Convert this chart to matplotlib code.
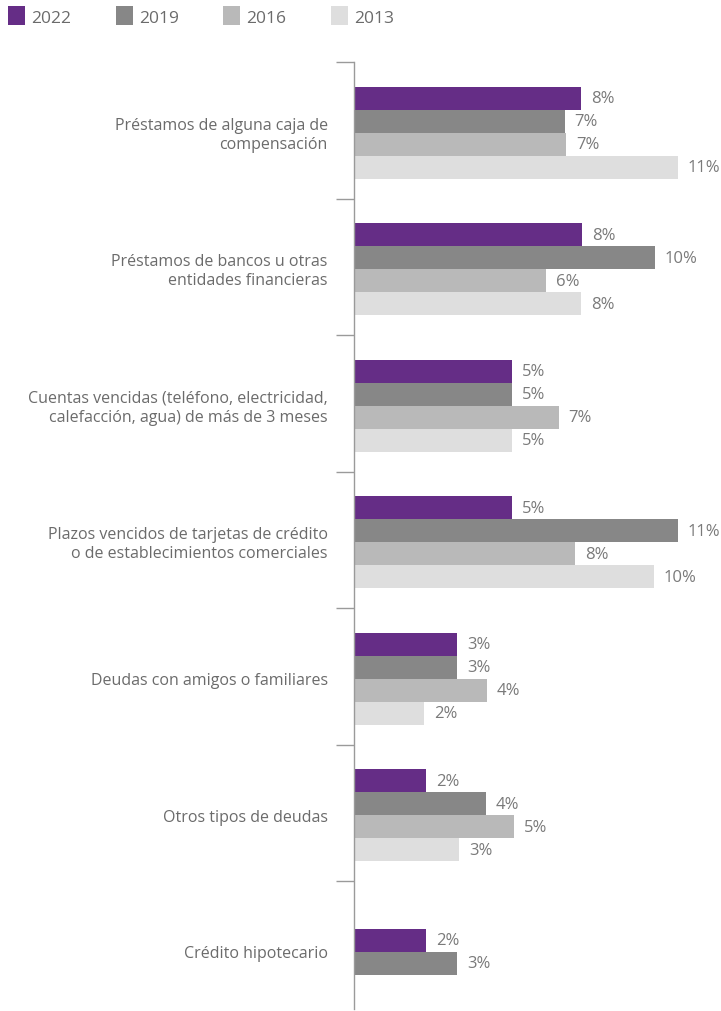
import matplotlib
matplotlib.use("Agg")
import matplotlib.pyplot as plt
from matplotlib.patches import Rectangle
import numpy as np

plt.rcParams['font.family'] = ['Open Sans', 'DejaVu Sans']

categories = [
    "Préstamos de alguna caja de\ncompensación",
    "Préstamos de bancos u otras\nentidades financieras",
    "Cuentas vencidas (teléfono, electricidad,\ncalefacción, agua) de más de 3 meses",
    "Plazos vencidos de tarjetas de crédito\no de establecimientos comerciales",
    "Deudas con amigos o familiares",
    "Otros tipos de deudas",
    "Crédito hipotecario",
]
series = ["2022", "2019", "2016", "2013"]
colors = ["#652d86", "#878787", "#b9b9b9", "#dedede"]

v2022 = [7.64, 7.68, 5.32, 5.32, 3.47, 2.42, 2.42]
v2019 = [7.10, 10.13, 5.32, 10.90, 3.47, 4.44, 3.47]
v2016 = [7.14, 6.46, 6.90, 7.44, 4.48, 5.39, None]
v2013 = [10.90, 7.64, 5.32, 10.10, 2.36, 3.54, None]

l2022 = ["8%", "8%", "5%", "5%", "3%", "2%", "2%"]
l2019 = ["7%", "10%", "5%", "11%", "3%", "4%", "3%"]
l2016 = ["7%", "6%", "7%", "8%", "4%", "5%", None]
l2013 = ["11%", "8%", "5%", "10%", "2%", "3%", None]

values = [v2022, v2019, v2016, v2013]
labels = [l2022, l2019, l2016, l2013]

W, H = 721, 1012
fig = plt.figure(figsize=(W / 100, H / 100), dpi=100)
ax_left, ax_right, ax_top, ax_bot = 354, 721, 63, 1010
ax = fig.add_axes([ax_left / W, (H - ax_bot) / H, (ax_right - ax_left) / W, (ax_bot - ax_top) / H])

px_per_group = 136.5
bh = 23 / px_per_group
text_color = "#6b6b6b"
val_color = "#7a7a7a"

for gi in range(len(categories)):
    present = [si for si in range(4) if values[si][gi] is not None]
    n = len(present)
    for k, si in enumerate(present):
        yc = gi + 0.02 + (k - (n - 1) / 2) * bh
        v = values[si][gi]
        ax.barh(yc, v, height=bh, color=colors[si], linewidth=0)
        ax.text(v + 0.33, yc, labels[si][gi], va="center", ha="left",
                fontsize=12, color=val_color)
    ax.text(-0.88, gi + 0.03, categories[gi], ha="right", va="center", fontsize=11.5,
            color=text_color, linespacing=1.25)

ax.set_xlim(0, (ax_right - ax_left) / 29.7)
ax.set_ylim((ax_bot - ax_top) / px_per_group - 0.5, -0.5)
for s in ["top", "right", "bottom"]:
    ax.spines[s].set_visible(False)
ax.spines["left"].set_color("#9a9a9a")
ax.spines["left"].set_linewidth(1.0)
ax.set_xticks([])
ax.set_yticks(np.arange(-0.5, len(categories) - 1, 1.0))
ax.set_yticklabels([])
ax.tick_params(axis="y", length=13, color="#9a9a9a", width=1.0, direction="out")

# legend
leg_x = [8, 116, 223, 331]
for si, name in enumerate(series):
    x0 = leg_x[si]
    fig.add_artist(Rectangle((x0 / W, (H - 26) / H), 17 / W, 19 / H,
                             transform=fig.transFigure, color=colors[si], linewidth=0))
    fig.text((x0 + 23) / W, (H - 19) / H, name, ha="left", va="center",
             fontsize=12.5, color=text_color)

fig.savefig("out.png", dpi=100)
